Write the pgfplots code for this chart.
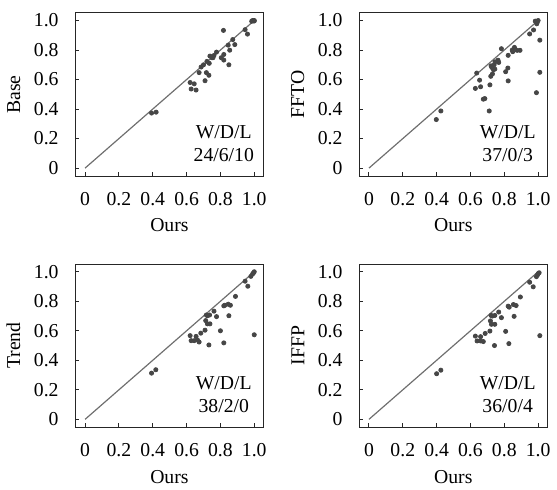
\documentclass[border=0pt]{standalone}
\usepackage{fontspec}
\setmainfont{Liberation Serif}
\usepackage{pgfplots}
\pgfplotsset{compat=1.18}
\usepgfplotslibrary{groupplots}

\definecolor{dotgray}{RGB}{70,70,70}
\definecolor{linegray}{RGB}{110,110,110}

\pgfplotsset{
  wdl/.style={
    scale only axis,
    width=95bp, height=82.5bp,
    xmin=-0.057, xmax=1.054,
    ymin=-0.054, ymax=1.052,
    xtick={0,0.2,0.4,0.6,0.8,1},
    ytick={0,0.2,0.4,0.6,0.8,1},
    xticklabels={0,0.2,0.4,0.6,0.8,1.0},
    yticklabels={0,0.2,0.4,0.6,0.8,1.0},
    tick align=inside,
    xtick pos=bottom, ytick pos=left,
    major tick length=2bp,
    xticklabel shift=4.5bp,
    yticklabel shift=5bp,
    /pgf/number format/assume math mode=true,
    axis line style={black!85, line width=0.5pt},
    tick style={black!85, line width=0.5pt},
    xlabel={Ours},
    clip=false,
  },
  dots/.style={only marks, mark=*, mark size=1.05bp, color=dotgray},
}

\newcommand{\diag}{\addplot[linegray, line width=0.6pt, no marks] coordinates {(0,0) (1,1)};}

\begin{document}
\begin{tikzpicture}
\begin{groupplot}[
  group style={group size=2 by 2, horizontal sep=48.5bp, vertical sep=44.5bp},
  wdl,
]
% Base
\nextgroupplot[ylabel={Base}]
\diag
\addplot[dots] coordinates {
(0.393,0.373) (0.420,0.379) (0.621,0.580) (0.645,0.571) (0.627,0.536)
(0.656,0.529) (0.674,0.647) (0.686,0.685) (0.709,0.592) (0.717,0.647)
(0.732,0.629) (0.720,0.723) (0.734,0.710) (0.738,0.759) (0.756,0.748)
(0.762,0.763) (0.777,0.786) (0.805,0.748) (0.818,0.933) (0.820,0.770)
(0.820,0.732) (0.850,0.700) (0.846,0.833) (0.855,0.799) (0.873,0.871)
(0.885,0.837) (0.946,0.938) (0.960,0.908) (0.990,1.000) (1.000,1.000)
(0.995,0.998) (0.985,0.995) (1.000,0.997) (0.700,0.700) (0.750,0.748)
};
\node[align=center] at (axis cs:0.82,0.167) {W/D/L\\24/6/10};

% FFTO
\nextgroupplot[ylabel={FFTO}]
\diag
\addplot[dots] coordinates {
(0.398,0.329) (0.425,0.387) (0.637,0.644) (0.629,0.540) (0.654,0.596)
(0.660,0.551) (0.676,0.467) (0.685,0.471) (0.711,0.387) (0.715,0.564)
(0.720,0.622) (0.722,0.693) (0.740,0.700) (0.730,0.638) (0.736,0.667)
(0.744,0.671) (0.763,0.731) (0.767,0.716) (0.783,0.809) (0.808,0.653)
(0.821,0.678) (0.823,0.591) (0.823,0.764) (0.847,0.800) (0.850,0.789)
(0.860,0.818) (0.876,0.798) (0.893,0.798) (0.950,0.909) (0.973,0.936)
(0.990,0.511) (0.992,0.978) (1.000,1.000) (0.983,0.996) (1.010,0.867)
(1.010,0.649) (0.726,0.682) (0.745,0.720) (0.762,0.725) (0.995,0.990)
};
\node[align=center] at (axis cs:0.82,0.167) {W/D/L\\37/0/3};

% Trend
\nextgroupplot[ylabel={Trend}]
\diag
\addplot[dots] coordinates {
(0.393,0.313) (0.418,0.336) (0.621,0.567) (0.627,0.533) (0.645,0.533)
(0.656,0.562) (0.664,0.538) (0.674,0.524) (0.684,0.584) (0.709,0.604)
(0.717,0.707) (0.723,0.702) (0.736,0.707) (0.713,0.669) (0.723,0.647)
(0.738,0.647) (0.732,0.504) (0.762,0.733) (0.777,0.696) (0.800,0.600)
(0.820,0.769) (0.826,0.773) (0.820,0.518) (0.846,0.780) (0.859,0.773)
(0.850,0.702) (0.889,0.833) (0.946,0.936) (0.962,0.902) (0.980,0.969)
(0.990,0.984) (1.000,1.000) (0.995,0.992) (1.000,0.573)
};
\node[align=center] at (axis cs:0.82,0.167) {W/D/L\\38/2/0};

% IFFP
\nextgroupplot[ylabel={IFFP}]
\diag
\addplot[dots] coordinates {
(0.400,0.309) (0.425,0.333) (0.629,0.564) (0.639,0.531) (0.660,0.531)
(0.660,0.560) (0.676,0.527) (0.687,0.582) (0.715,0.598) (0.722,0.704)
(0.730,0.700) (0.744,0.704) (0.718,0.667) (0.724,0.644) (0.744,0.644)
(0.742,0.500) (0.767,0.727) (0.783,0.689) (0.808,0.596) (0.823,0.767)
(0.829,0.760) (0.827,0.513) (0.854,0.778) (0.870,0.771) (0.858,0.698)
(0.895,0.829) (0.950,0.929) (0.971,0.898) (0.990,0.967) (0.996,0.978)
(1.006,0.993) (1.000,0.987) (1.010,0.567)
};
\node[align=center] at (axis cs:0.82,0.167) {W/D/L\\36/0/4};
\end{groupplot}
% blank strip above the top row, as in the reference
\path ([yshift=6.5bp]group c1r1.north west) -- ([yshift=6.5bp]group c2r1.north east);
\end{tikzpicture}
\end{document}
